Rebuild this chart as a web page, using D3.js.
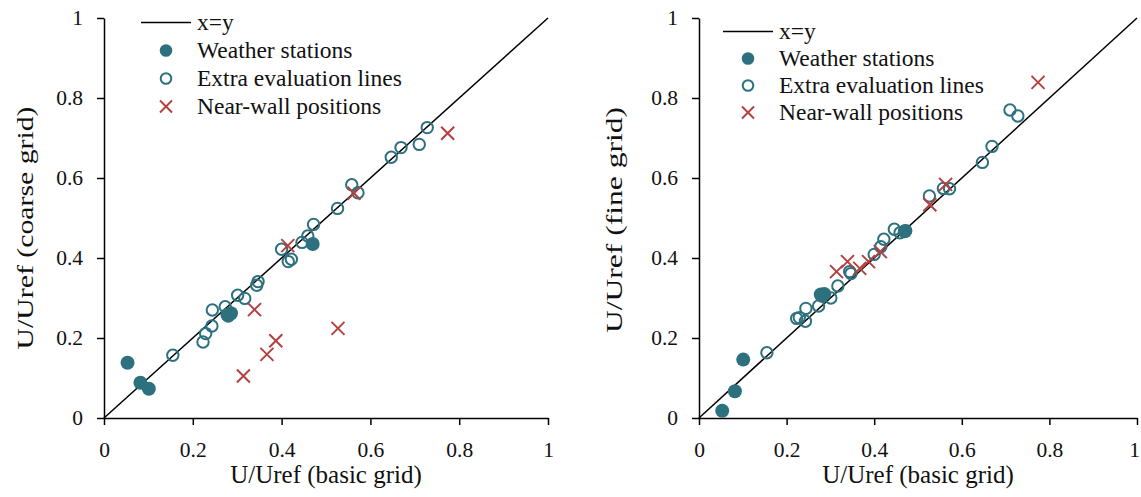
<!DOCTYPE html>
<html>
<head>
<meta charset="utf-8">
<script src="https://cdn.jsdelivr.net/npm/d3@7"></script>
<style>
  body { margin: 0; background: #fff; }
</style>
</head>
<body>
<div id="container"></div>
<script>
/** DATA */
const tickValues = [0, 0.2, 0.4, 0.6, 0.8, 1];

// weather stations
const stationBasic = [0.053, 0.082, 0.101, 0.278, 0.286, 0.470];
const stationCoarse = [0.138, 0.088, 0.073, 0.258, 0.262, 0.435];
const stationFine = [0.018, 0.067, 0.146, 0.309, 0.310, 0.467];

// extra evaluation lines
const lineBasic = [0.155, 0.223, 0.229, 0.243, 0.244, 0.273, 0.280, 0.301, 0.317, 0.344, 0.347, 0.400,
  0.415, 0.422, 0.446, 0.459, 0.472, 0.526, 0.558, 0.572, 0.647, 0.669, 0.710, 0.728];
const lineCoarse = [0.157, 0.190, 0.211, 0.230, 0.270, 0.278, 0.255, 0.307, 0.299, 0.332, 0.341, 0.422,
  0.391, 0.397, 0.439, 0.455, 0.484, 0.524, 0.583, 0.563, 0.652, 0.676, 0.684, 0.726];
const lineFine = [0.163, 0.249, 0.251, 0.242, 0.274, 0.280, 0.305, 0.300, 0.330, 0.366, 0.361, 0.409,
  0.428, 0.447, 0.472, 0.463, 0.468, 0.555, 0.574, 0.573, 0.639, 0.679, 0.770, 0.755];

// near-wall positions
const wallBasic = [0.314, 0.339, 0.367, 0.387, 0.414, 0.527, 0.563, 0.774];
const wallCoarse = [0.105, 0.271, 0.159, 0.193, 0.431, 0.224, 0.562, 0.712];
const wallFine = [0.366, 0.391, 0.374, 0.391, 0.416, 0.533, 0.584, 0.839];

const legendLabels = ["x=y", "Weather stations", "Extra evaluation lines", "Near-wall positions"];

/** CONSTANTS */
const width = 1141, height = 497;
const teal = "#2e717e", red = "#b4403f";
const serif = "'Liberation Serif', 'Times New Roman', 'DejaVu Serif', serif";

const svg = d3.select("#container").append("svg")
  .attr("width", width).attr("height", height);

const panels = [
  { x0: 104, x1: 548, yTitle: "U/Uref (coarse grid)", titleX: 25, titleY: 228, titleLen: 243,
    sY: stationCoarse, lY: lineCoarse, wY: wallCoarse,
    leg: { lx: 141, mx: 166, tx: 197, y: 22.5, step: 28 } },
  { x0: 699, x1: 1137, yTitle: "U/Uref (fine grid)", titleX: 614, titleY: 220, titleLen: 226,
    sY: stationFine, lY: lineFine, wY: wallFine,
    leg: { lx: 723, mx: 748, tx: 779, y: 31.5, step: 27 } }
];

panels.forEach((p, pi) => {
  const x = d3.scaleLinear().domain([0, 1]).range([p.x0, p.x1]);
  const y = d3.scaleLinear().domain([0, 1]).range([418, 18]);
  const g = svg.append("g");

  // axes
  const xAxis = g.append("g").attr("transform", `translate(0,${y(0)})`)
    .call(d3.axisBottom(x).tickValues(tickValues).tickFormat(d3.format("~g")).tickSize(7).tickSizeOuter(0));
  const yAxis = g.append("g").attr("transform", `translate(${x(0)},0)`)
    .call(d3.axisLeft(y).tickValues(tickValues).tickFormat(d3.format("~g")).tickSize(7).tickSizeOuter(0));
  [xAxis, yAxis].forEach(a => {
    a.attr("font-family", null);
    a.select(".domain").attr("stroke", "#000").attr("stroke-width", 1.5);
    a.selectAll(".tick line").attr("stroke", "#000").attr("stroke-width", 1.5);
    a.selectAll(".tick text").style("font-size", "21.5px").style("font-family", serif).attr("fill", "#111");
  });
  xAxis.selectAll(".tick text").attr("dy", "0").attr("y", 39)
    .attr("dx", d => (pi === 1 && d === 1) ? -3 : 0);
  yAxis.selectAll(".tick text").attr("x", -21);

  // axis titles
  g.append("text").attr("x", (p.x0 + p.x1) / 2).attr("y", 483)
    .attr("text-anchor", "middle").style("font-size", "25px").style("font-family", serif)
    .attr("fill", "#111").text("U/Uref (basic grid)");
  g.append("text").attr("transform", `translate(${p.titleX},${p.titleY}) rotate(-90)`)
    .attr("text-anchor", "middle").attr("dy", "0.32em")
    .attr("textLength", p.titleLen).attr("lengthAdjust", "spacingAndGlyphs")
    .style("font-size", "24px").style("font-family", serif)
    .attr("fill", "#111").text(p.yTitle);

  // diagonal
  g.append("line").attr("x1", x(0)).attr("y1", y(0)).attr("x2", x(1)).attr("y2", y(1))
    .attr("stroke", "#000").attr("stroke-width", 1.5);

  // open circles
  g.selectAll("circle.line").data(lineBasic.map((d, i) => [d, p.lY[i]]))
    .join("circle").attr("class", "line")
    .attr("cx", d => x(d[0])).attr("cy", d => y(d[1])).attr("r", 5.7)
    .attr("fill", "none").attr("stroke", teal).attr("stroke-width", 2);

  // filled circles
  g.selectAll("circle.station").data(stationBasic.map((d, i) => [d, p.sY[i]]))
    .join("circle").attr("class", "station")
    .attr("cx", d => x(d[0])).attr("cy", d => y(d[1])).attr("r", 7)
    .attr("fill", teal);

  // crosses
  const cross = "M-6.5,-6.5L6.5,6.5M-6.5,6.5L6.5,-6.5";
  g.selectAll("path.wall").data(wallBasic.map((d, i) => [d, p.wY[i]]))
    .join("path").attr("class", "wall")
    .attr("transform", d => `translate(${x(d[0])},${y(d[1])})`)
    .attr("d", cross).attr("stroke", red).attr("stroke-width", 2).attr("fill", "none");

  // legend
  const L = p.leg;
  const leg = g.append("g");
  leg.append("line").attr("x1", L.lx).attr("x2", L.lx + 50).attr("y1", L.y).attr("y2", L.y)
    .attr("stroke", "#000").attr("stroke-width", 1.5);
  leg.append("circle").attr("cx", L.mx).attr("cy", L.y + L.step).attr("r", 6.3).attr("fill", teal);
  leg.append("circle").attr("cx", L.mx).attr("cy", L.y + 2 * L.step).attr("r", 5.3)
    .attr("fill", "none").attr("stroke", teal).attr("stroke-width", 2);
  leg.append("path").attr("transform", `translate(${L.mx},${L.y + 3 * L.step})`)
    .attr("d", "M-6,-6L6,6M-6,6L6,-6").attr("stroke", red).attr("stroke-width", 2);
  legendLabels.forEach((t, i) => {
    leg.append("text").attr("x", L.tx).attr("y", L.y + i * L.step).attr("dy", "0.3em")
      .style("font-size", "23.5px").style("font-family", serif).attr("fill", "#111").text(t);
  });
});
</script>
</body>
</html>
